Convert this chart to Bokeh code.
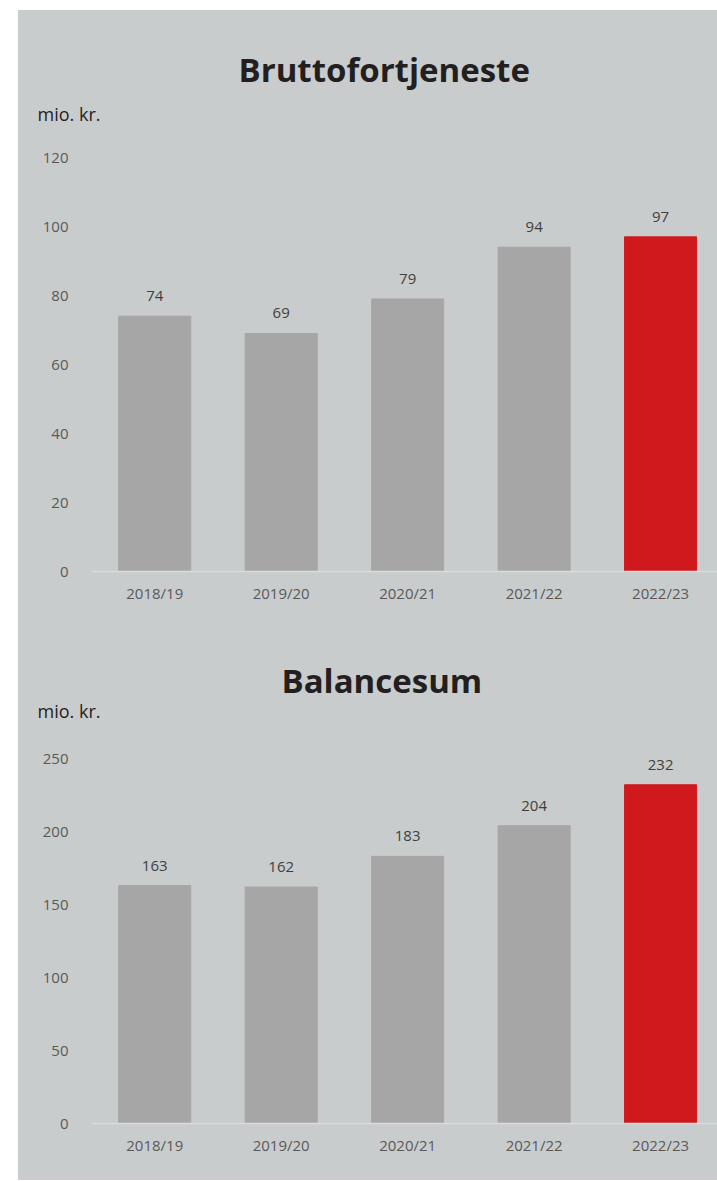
from bokeh.plotting import figure
from bokeh.models import Range1d, FixedTicker, Title, ColumnDataSource
from bokeh.layouts import column
from bokeh.core.properties import value
from bokeh.embed import file_html
from bokeh.resources import INLINE

categories = ["2018/19", "2019/20", "2020/21", "2021/22", "2022/23"]
brutto = [74, 69, 79, 94, 97]
balance = [163, 162, 183, 204, 232]
brutto_ticks = [0, 20, 40, 60, 80, 100, 120]
balance_ticks = [0, 50, 100, 150, 200, 250]
highlight = "2022/23"
unit_label = "mio. kr."

BG = "#c9cccd"
GRAY = "#a6a6a6"
RED = "#cf191c"
FONT = "Open Sans"


def make_chart(title, values, ticks, height, top, bottom, left,
               unit_standoff, title_standoff, title_offset):
    p = figure(width=699, height=height,
               x_range=Range1d(-0.5, 4.45), y_range=Range1d(0, ticks[-1]),
               output_backend="svg", toolbar_location=None,
               min_border_left=left, min_border_right=0,
               min_border_top=top, min_border_bottom=bottom)
    p.background_fill_color = None
    p.border_fill_color = None
    p.outline_line_color = None
    p.grid.visible = False

    xs = list(range(len(categories)))
    colors = [RED if c == highlight else GRAY for c in categories]
    src = ColumnDataSource(dict(x=xs, top=values, color=colors,
                                label=[str(v) for v in values]))
    p.vbar(x="x", top="top", width=0.57, color="color", source=src)
    p.text(x="x", y="top", text="label", source=src, text_align="center",
           text_baseline="middle", y_offset=-20, text_font=value(FONT),
           text_font_size="15px", text_color="#404040")

    p.xaxis.ticker = FixedTicker(ticks=xs)
    p.xaxis.major_label_overrides = {i: c for i, c in enumerate(categories)}
    p.xaxis.axis_line_color = "#dcdcdc"
    p.xaxis.axis_line_width = 1.5
    p.xaxis.major_tick_line_color = None
    p.xaxis.minor_tick_line_color = None
    p.xaxis.major_label_standoff = 5
    p.xaxis.major_label_text_font = FONT
    p.xaxis.major_label_text_font_size = "15px"
    p.xaxis.major_label_text_color = "#595959"

    p.yaxis.ticker = FixedTicker(ticks=ticks)
    p.yaxis.axis_line_color = None
    p.yaxis.major_tick_line_color = None
    p.yaxis.minor_tick_line_color = None
    p.yaxis.major_label_standoff = 17
    p.yaxis.major_label_text_font = FONT
    p.yaxis.major_label_text_font_size = "15px"
    p.yaxis.major_label_text_color = "#595959"

    p.add_layout(Title(text=unit_label, align="left", offset=-54,
                       standoff=unit_standoff, text_font=FONT,
                       text_font_style="normal", text_font_size="18px",
                       text_color="#231f20"), "above")
    p.add_layout(Title(text=title, align="left", offset=title_offset,
                       standoff=title_standoff, text_font=FONT,
                       text_font_style="bold", text_font_size="33px",
                       text_color="#231f20"), "above")
    return p


p1 = make_chart("Bruttofortjeneste", brutto, brutto_ticks, 630, 147, 69, 72,
                63, -47, 147)
p2 = make_chart("Balancesum", balance, balance_ticks, 540, 118, 57, 73,
                71, -83, 190)

layout = column(p1, p2, spacing=0, margin=(10, 0, 0, 18),
                styles={"background-color": BG})
open("out.html", "w").write(file_html(layout, INLINE))
